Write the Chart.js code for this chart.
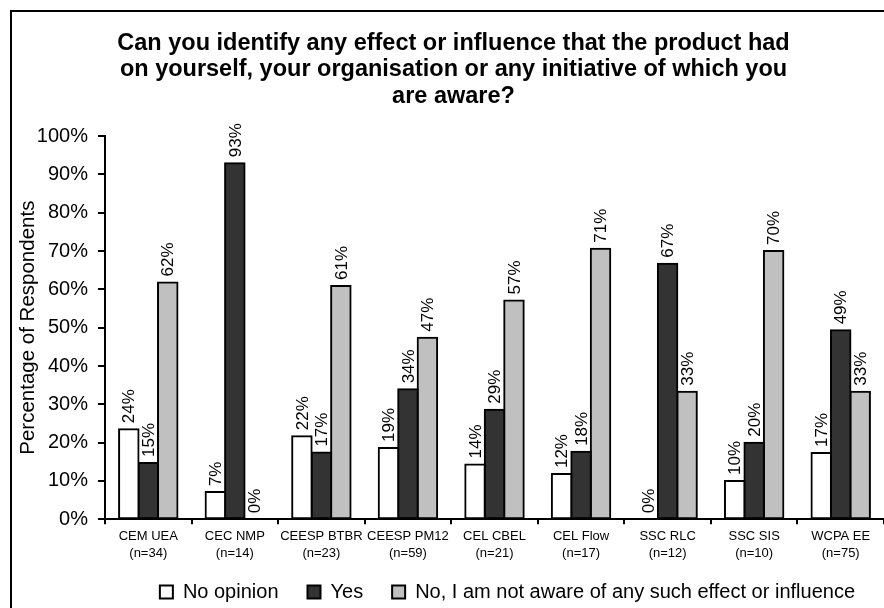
<!DOCTYPE html>
<html>
<head>
<meta charset="utf-8">
<script src="https://cdn.jsdelivr.net/npm/chart.js@4.4.0/dist/chart.umd.min.js"></script>
<style>
  html, body { margin: 0; padding: 0; background: #fff; }
  #wrap { position: relative; width: 884px; height: 608px; overflow: hidden; }
  #frame { position: absolute; left: 10px; top: 10px; width: 900px; height: 620px;
           border-left: 2px solid #000; border-top: 2px solid #000; }
  canvas { position: absolute; left: 0; top: 0; }
</style>
</head>
<body>
<div id="wrap">
  <div id="frame"></div>
  <canvas id="c" width="884" height="608"></canvas>
</div>
<script>
// Survey groups (with sample sizes) along the x axis
const categories = [
  ['CEM UEA', '(n=34)'],
  ['CEC NMP', '(n=14)'],
  ['CEESP BTBR', '(n=23)'],
  ['CEESP PM12', '(n=59)'],
  ['CEL CBEL', '(n=21)'],
  ['CEL Flow', '(n=17)'],
  ['SSC RLC', '(n=12)'],
  ['SSC SIS', '(n=10)'],
  ['WCPA EE', '(n=75)']
];

const seriesNames = [
  'No opinion',
  'Yes',
  'No, I am not aware of any such effect or influence'
];

// Share of respondents per answer, in percent
const noOpinion = [23.5, 7.1, 21.7, 18.6, 14.3, 11.8, 0, 10, 17.3];
const yes       = [14.7, 92.9, 17.4, 33.9, 28.6, 17.6, 66.7, 20, 49.3];
const notAware  = [61.8, 0, 60.9, 47.4, 57.1, 70.6, 33.3, 70, 33.3];

const chartTitle = [
  'Can you identify any effect or influence that the product had',
  'on yourself, your organisation or any initiative of which you',
  'are aware?'
];
const yAxisTitle = 'Percentage of Respondents';

const FONT = "'Liberation Sans', Arial, Helvetica, sans-serif";
Chart.defaults.font.family = FONT;
Chart.defaults.color = '#000';

// Rotated percentage labels above every bar
const barValueLabels = {
  id: 'barValueLabels',
  afterDatasetsDraw(chart) {
    const ctx = chart.ctx;
    ctx.save();
    ctx.fillStyle = '#000';
    ctx.font = '17px ' + FONT;
    ctx.textAlign = 'left';
    ctx.textBaseline = 'middle';
    chart.data.datasets.forEach((ds, di) => {
      const meta = chart.getDatasetMeta(di);
      meta.data.forEach((bar, i) => {
        const v = ds.data[i];
        ctx.save();
        ctx.translate(bar.x + 1, bar.y - 6);
        ctx.rotate(-Math.PI / 2);
        ctx.fillText(Math.round(v) + '%', 0, 0);
        ctx.restore();
      });
    });
    ctx.restore();
  }
};

// Let the two-line category labels run below the axis box without being clipped
const categoryLabelRoom = {
  id: 'categoryLabelRoom',
  afterLayout(chart) {
    const x = chart.scales.x;
    x.bottom = x.top + 50;
  }
};

const barStyle = {
  borderColor: '#000',
  borderWidth: 2,
  borderSkipped: false,
  inflateAmount: 1
};

new Chart(document.getElementById('c'), {
  type: 'bar',
  data: {
    labels: categories,
    datasets: [
      Object.assign({ label: seriesNames[0], data: noOpinion, backgroundColor: '#ffffff' }, barStyle),
      Object.assign({ label: seriesNames[1], data: yes, backgroundColor: '#333333' }, barStyle),
      Object.assign({ label: seriesNames[2], data: notAware, backgroundColor: '#c0c0c0' }, barStyle)
    ]
  },
  options: {
    responsive: false,
    animation: false,
    devicePixelRatio: 1,
    layout: { padding: { left: 23, right: 0, top: 0, bottom: -4 } },
    datasets: { bar: { categoryPercentage: 0.675, barPercentage: 1 } },
    plugins: {
      title: {
        display: true,
        text: chartTitle,
        color: '#000',
        font: { size: 23.5, weight: 'bold', lineHeight: 1.128 },
        padding: { top: 30, bottom: 26.5 }
      },
      legend: {
        position: 'bottom',
        align: 'end',
        labels: {
          boxWidth: 13,
          boxHeight: 13,
          padding: 29,
          color: '#000',
          font: { size: 20 }
        }
      },
      tooltip: { enabled: false }
    },
    scales: {
      x: {
        grid: { display: true, drawOnChartArea: false, drawTicks: true, tickLength: 5,
                color: '#000', lineWidth: 2, offset: true },
        border: { display: true, color: '#000', width: 2 },
        ticks: { color: '#000', font: { size: 13, lineHeight: 1.28 }, padding: 4,
                 maxRotation: 0, autoSkip: false },
        afterFit(s) { s.height = 33.7; }
      },
      y: {
        min: 0,
        max: 100,
        ticks: { stepSize: 10, callback: v => v + '%', color: '#000', font: { size: 20 }, padding: 10 },
        grid: { drawOnChartArea: false, tickLength: 7, color: '#000', lineWidth: 2 },
        border: { display: true, color: '#000', width: 2 },
        title: { display: true, text: yAxisTitle, color: '#000', font: { size: 20.5 },
                 padding: { top: -7, bottom: 0 } },
        afterFit(s) { s.width = 82; }
      }
    }
  },
  plugins: [barValueLabels, categoryLabelRoom]
});
</script>
</body>
</html>
